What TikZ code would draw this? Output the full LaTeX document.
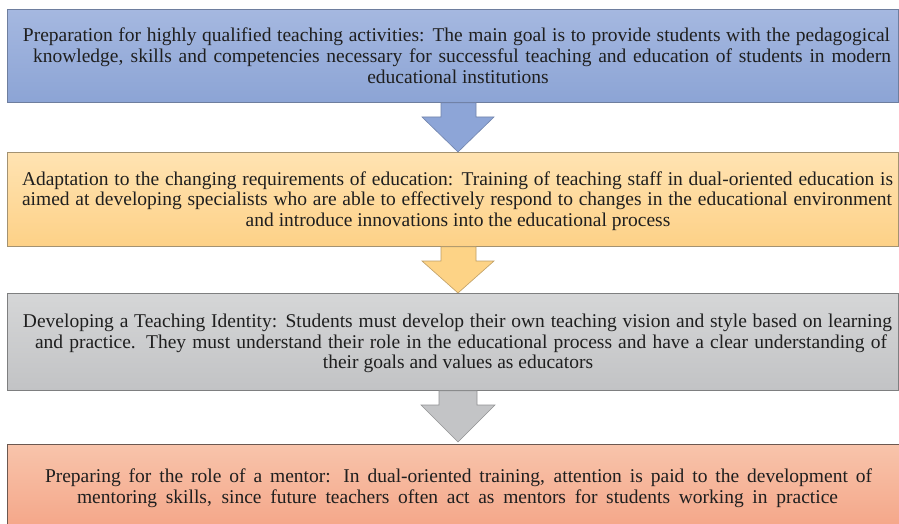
\documentclass[tikz,border=0pt]{standalone}
\usepackage{fontspec}
\setmainfont{Liberation Serif}
\usetikzlibrary{calc}
\definecolor{blueT}{HTML}{A5B8E0}
\definecolor{blueB}{HTML}{8CA4D5}
\definecolor{blueE}{HTML}{6E7E9E}
\definecolor{blueA}{HTML}{8DA5D7}
\definecolor{oraT}{HTML}{FFE3B2}
\definecolor{oraB}{HTML}{FDD187}
\definecolor{oraE}{HTML}{A39272}
\definecolor{oraA}{HTML}{FDD386}
\definecolor{gryT}{HTML}{D5D6D7}
\definecolor{gryB}{HTML}{C2C3C5}
\definecolor{gryE}{HTML}{7E7F80}
\definecolor{gryA}{HTML}{C3C4C6}
\definecolor{salT}{HTML}{F8C4AB}
\definecolor{salB}{HTML}{F4A486}
\definecolor{salE}{HTML}{6C5850}
\tikzset{
  box/.style={draw, line width=0.9pt, rectangle, inner sep=0pt, anchor=north west},
  txt/.style={font=\fontsize{19.5}{21}\selectfont, inner sep=0pt, anchor=base, text=black!88},
  blockarrow/.style={line width=0.6pt, line join=miter}
}
\newcommand{\jline}[2]{\makebox[#1pt][s]{#2}}
\begin{document}
\begin{tikzpicture}[x=1pt,y=-1pt]
\useasboundingbox (0,0) rectangle (899,524);
\fill[white] (0,0) rectangle (899,524);
% boxes
\node[box, draw=blueE, top color=blueT, bottom color=blueB, minimum width=891, minimum height=93] (b1) at (7,9) {};
\node[box, draw=oraE, top color=oraT, bottom color=oraB, minimum width=891, minimum height=94] (b2) at (7,152) {};
\node[box, draw=gryE, top color=gryT, bottom color=gryB, minimum width=891, minimum height=97] (b3) at (7,293) {};
\node[box, draw=salE, top color=salT, bottom color=salB, minimum width=900, minimum height=90] (b4) at (7,444) {};
% texts
\node[txt] (t1a) at (456.5,42) {\jline{867}{Preparation for highly qualified teaching activities: The main goal is to provide students with the pedagogical}};
\node[txt] (t1b) at (462,62.7) {\jline{858}{knowledge, skills and competencies necessary for successful teaching and education of students in modern}};
\node[txt] (t1c) at (458,83.2) {educational institutions};
\node[txt] (t2a) at (457.5,185) {\jline{871}{Adaptation to the changing requirements of education: Training of teaching staff in dual-oriented education is}};
\node[txt] (t2b) at (457,205.7) {\jline{870}{aimed at developing specialists who are able to effectively respond to changes in the educational environment}};
\node[txt] (t2c) at (458,226) {and introduce innovations into the educational process};
\node[txt] (t3a) at (457.5,327.7) {\jline{869}{Developing a Teaching Identity: Students must develop their own teaching vision and style based on learning}};
\node[txt] (t3b) at (461,348) {\jline{852}{and practice. They must understand their role in the educational process and have a clear understanding of}};
\node[txt] (t3c) at (458,368.5) {their goals and values as educators};
\node[txt] (t4a) at (458.5,482.7) {\jline{827}{Preparing for the role of a mentor: In dual-oriented training, attention is paid to the development of}};
\node[txt] (t4b) at (457.5,503) {\jline{761}{mentoring skills, since future teachers often act as mentors for students working in practice}};
% arrows
\filldraw[blockarrow, fill=blueA, draw=blueA!80!black]
  (441,0 |- b1.south) -- (441,117) -- (422,117) -- (458,0 |- b2.north) -- (494,117) -- (476,117) -- (476,0 |- b1.south) -- cycle;
\filldraw[blockarrow, fill=oraA, draw=oraA!75!black]
  (441,0 |- b2.south) -- (441,261) -- (422,261) -- (458,0 |- b3.north) -- (494,261) -- (476,261) -- (476,0 |- b2.south) -- cycle;
\filldraw[blockarrow, fill=gryA, draw=gryA!75!black]
  (439,0 |- b3.south) -- (439,405) -- (421,405) -- (458,442) -- (495,405) -- (477,405) -- (477,0 |- b3.south) -- cycle;
\end{tikzpicture}
\end{document}
